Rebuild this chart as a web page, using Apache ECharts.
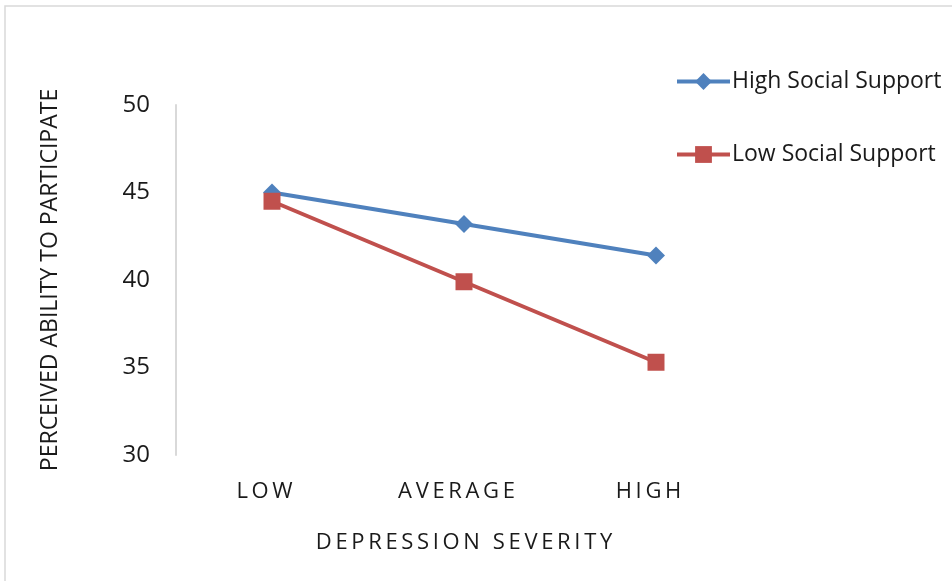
<!DOCTYPE html>
<html>
<head>
<meta charset="utf-8">
<script src="https://cdn.jsdelivr.net/npm/echarts@6/dist/echarts.min.js"></script>
<style>
  html, body { margin: 0; padding: 0; background: #fff; }
  #chart { width: 952px; height: 581px; }
</style>
</head>
<body>
<div id="chart"></div>
<script>
// Depression severity levels on the x axis
const categories = ['LOW', 'AVERAGE', 'HIGH'];
// Perceived ability to participate, by social support group
const highSupport = [45.0, 43.2, 41.4];
const lowSupport = [44.5, 39.9, 35.3];
// Value axis range
const yMin = 30, yMax = 50, yStep = 5;

const FONT = '"Open Sans", sans-serif';
// letter-spaced caps
const spaced = (s, gap) => s.split('').join(gap);

const chart = echarts.init(document.getElementById('chart'));
chart.setOption({
  animation: false,
  backgroundColor: '#fff',
  graphic: [{
    type: 'rect',
    shape: { x: 5, y: 6, width: 960, height: 600 },
    style: { fill: 'none', stroke: '#D9D9D9', lineWidth: 1.5 },
    silent: true
  }],
  grid: { left: 176, right: 200, top: 105, bottom: 126 },
  legend: {
    orient: 'vertical',
    left: 675,
    top: 70,
    padding: 0,
    itemWidth: 53,
    itemHeight: 21,
    itemGap: 50,
    lineStyle: { width: 4 },
    textStyle: { fontFamily: FONT, fontSize: 23, color: '#1a1a1a', padding: [0, 0, 0, -3] },
    data: ['High Social Support', 'Low Social Support']
  },
  xAxis: {
    type: 'category',
    data: categories,
    boundaryGap: true,
    axisLine: { show: false },
    axisTick: { show: false },
    axisLabel: {
      margin: 26,
      padding: [0, 15, 0, 0],
      fontFamily: FONT, fontSize: 22, color: '#1a1a1a',
      formatter: v => spaced(v, '\u2009')
    },
    name: spaced('DEPRESSION SEVERITY', '\u2009'),
    nameLocation: 'middle',
    nameGap: 77,
    nameTextStyle: { fontFamily: FONT, fontSize: 22, color: '#1a1a1a' }
  },
  yAxis: {
    type: 'value',
    min: yMin, max: yMax, interval: yStep,
    axisLine: { show: true, lineStyle: { color: '#D9D9D9', width: 2 } },
    axisTick: { show: false },
    splitLine: { show: false },
    axisLabel: { margin: 26, fontFamily: FONT, fontSize: 24, color: '#1a1a1a' },
    name: 'PERCEIVED ABILITY TO PARTICIPATE',
    nameLocation: 'middle',
    nameGap: 114,
    nameTextStyle: { fontFamily: FONT, fontSize: 23, color: '#1a1a1a' }
  },
  series: [
    {
      name: 'High Social Support',
      type: 'line',
      data: highSupport,
      symbol: 'diamond',
      symbolSize: 18,
      lineStyle: { color: '#4F81BD', width: 4 },
      itemStyle: { color: '#4F81BD' },
      z: 3
    },
    {
      name: 'Low Social Support',
      type: 'line',
      data: lowSupport,
      symbol: 'rect',
      symbolSize: 17,
      lineStyle: { color: '#C0504D', width: 4 },
      itemStyle: { color: '#C0504D' },
      z: 4
    }
  ]
});
</script>
</body>
</html>
